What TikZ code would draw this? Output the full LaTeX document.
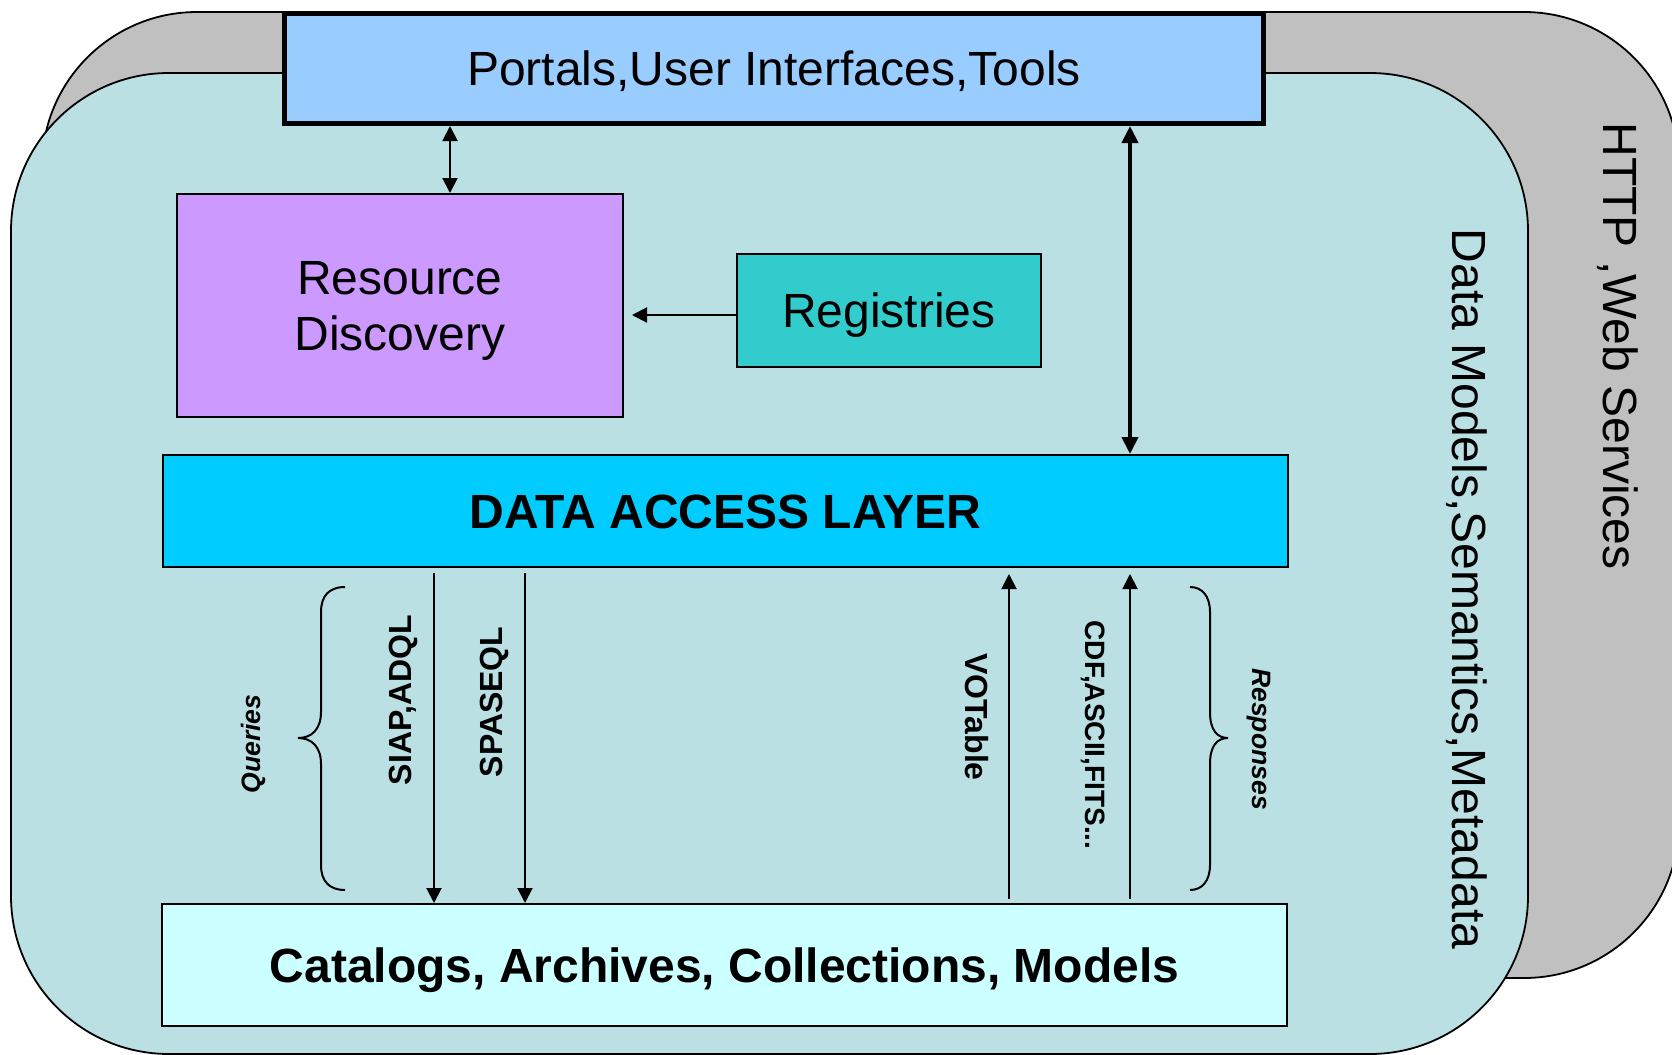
\documentclass[tikz,border=0pt]{standalone}
\usepackage{fontspec}
\setmainfont{Liberation Sans}
\usetikzlibrary{arrows.meta,calc}
\definecolor{graybg}{HTML}{C0C0C0}
\definecolor{tealbg}{HTML}{BAE0E3}
\definecolor{portalc}{HTML}{99CCFF}
\definecolor{rdc}{HTML}{CC99FF}
\definecolor{regc}{HTML}{33CCCC}
\definecolor{dalc}{HTML}{00CCFF}
\definecolor{catc}{HTML}{CCFFFF}
\newcommand{\lowerln}[1]{\raisebox{-2.7pt}[\height][\depth]{#1}}
\begin{document}
\begin{tikzpicture}[x=0.5pt,y=-0.5pt,
  box/.style={draw=black, line width=1pt, inner sep=0pt, align=center, text=black},
  oneline/.style={text height=20pt, text depth=3pt},
  bigfont/.style={font=\fontsize{24}{28}\selectfont},
  boldfont/.style={font=\fontsize{24}{28}\selectfont\bfseries},
  arr/.style={line width=1pt, -{Triangle[width=7.5pt,length=7.5pt]}},
  darr/.style={line width=1pt, {Triangle[width=7.5pt,length=7.5pt]}-{Triangle[width=7.5pt,length=7.5pt]}},
  bigarr/.style={line width=2pt, {Triangle[width=8pt,length=8.5pt]}-{Triangle[width=8pt,length=8.5pt]}},
  bracepath/.style={line width=1pt},
  vlab/.style={font=\fontsize{16}{19}\selectfont\bfseries, anchor=base, inner sep=0pt},
  slab/.style={font=\fontsize{14}{16}\selectfont\bfseries, anchor=base, inner sep=0pt},
  ilab/.style={font=\fontsize{13.3}{16}\selectfont\bfseries\itshape, anchor=base, inner sep=0pt},
  sidelab/.style={font=\fontsize{24}{28}\selectfont, anchor=base, inner sep=0pt}
]
\useasboundingbox (0,0) rectangle (1672,1055);
\clip (0,0) rectangle (1672,1055);

% background layers
\draw[fill=graybg, line width=0.9pt, rounded corners=77.5pt] (42,12) rectangle (1679,978);
\draw[fill=tealbg, line width=0.9pt, rounded corners=79pt] (11,73) rectangle (1528,1054);

% boxes
\node[box, bigfont, oneline, fill=portalc, line width=2.5pt, minimum width=489.5pt, minimum height=55pt] (portals) at (774,68.5) {Portals,User Interfaces,Tools};
\node[box, bigfont, fill=rdc, minimum width=223pt, minimum height=111.5pt] (rd) at (400,305.5) {\lowerln{Resource}\\\lowerln{Discovery}};
\node[box, bigfont, oneline, fill=regc, minimum width=152pt, minimum height=56.5pt] (reg) at (889,310.5) {Registries};
\node[box, boldfont, oneline, fill=dalc, minimum width=562.5pt, minimum height=56pt] (dal) at (725.5,511) {DATA ACCESS LAYER};
\node[box, boldfont, oneline, fill=catc, minimum width=562.5pt, minimum height=61pt] (cat) at (724.5,965) {Catalogs, Archives, Collections, Models};

% helper coordinates for connector x positions
\coordinate (xa) at (450,0);
\coordinate (xb) at (1130,0);
\coordinate (xq1) at (434,0);
\coordinate (xq2) at (525,0);
\coordinate (xr1) at (1009,0);
\coordinate (yr) at (0,315);

% connectors
\draw[darr] (portals.south -| xa) -- (rd.north -| xa);
\draw[bigarr] (portals.south -| xb) -- (dal.north -| xb);
\draw[arr, shorten >=4pt] (reg.west |- yr) -- (rd.east |- yr);
\draw[arr, shorten <=2.5pt] (dal.south -| xq1) -- (cat.north -| xq1);
\draw[arr, shorten <=2.5pt] (dal.south -| xq2) -- (cat.north -| xq2);
\draw[arr, shorten <=2pt, shorten >=3pt] (cat.north -| xr1) -- (dal.south -| xr1);
\draw[arr, shorten <=2pt, shorten >=3pt] (cat.north -| xb) -- (dal.south -| xb);

% braces
\draw[bracepath] (345,587) .. controls (329,587) and (321,596) .. (321,612) -- (321,712)
  .. controls (321,730) and (311,738) .. (298,738)
  .. controls (311,738) and (321,746) .. (321,764) -- (321,865)
  .. controls (321,881) and (329,890) .. (345,890);
\draw[bracepath] (1190,587) .. controls (1202,587) and (1210,596) .. (1210,612) -- (1210,712)
  .. controls (1210,730) and (1217,738) .. (1228,738)
  .. controls (1217,738) and (1210,746) .. (1210,764) -- (1210,865)
  .. controls (1210,881) and (1202,890) .. (1190,890);

% rotated labels
\node[ilab, rotate=90] (queries) at (260,744) {Queries};
\node[vlab, rotate=90] (siap) at (411,700) {SIAP,ADQL};
\node[vlab, rotate=90] (spase) at (502,702) {SPASEQL};
\node[vlab, rotate=-90] (votable) at (965,717) {VOTable};
\node[slab, rotate=-90] (cdf) at (1085,735) {CDF,ASCII,FITS...};
\node[ilab, rotate=-90] (resp) at (1252,739) {Responses};
\node[sidelab, rotate=-90] (dm) at (1452,589) {Data Models,Semantics,Metadata};
\node[sidelab, rotate=-90] (http) at (1603,346) {HTTP ,Web Services};
\end{tikzpicture}
\end{document}
